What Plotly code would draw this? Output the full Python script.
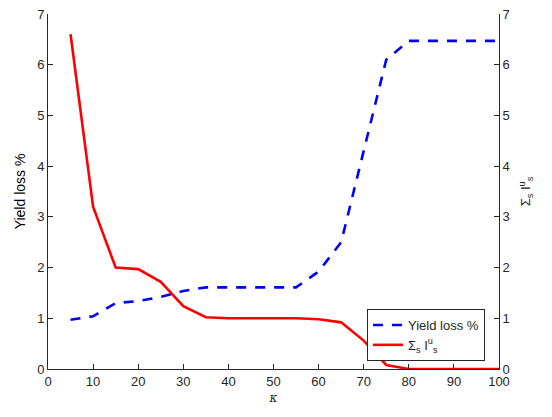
import plotly.graph_objects as go

kappa = [5, 10, 15, 20, 25, 30, 35, 40, 45, 50, 55, 60, 65, 70, 75, 80, 85, 90, 95, 100]
yield_loss = [0.97, 1.04, 1.30, 1.34, 1.42, 1.54, 1.61, 1.61, 1.61, 1.61, 1.61, 1.92, 2.5, 4.3, 6.1, 6.47, 6.47, 6.47, 6.47, 6.47]
sum_I = [6.6, 3.2, 2.0, 1.97, 1.72, 1.24, 1.02, 1.0, 1.0, 1.0, 1.0, 0.98, 0.92, 0.56, 0.08, 0.0, 0.0, 0.0, 0.0, 0.0]
x_ticks = [0, 10, 20, 30, 40, 50, 60, 70, 80, 90, 100]
y_ticks = [0, 1, 2, 3, 4, 5, 6, 7]

AX = "#262626"
FONT = "Liberation Sans, Arial, sans-serif"

fig = go.Figure()
fig.add_trace(go.Scatter(
    x=kappa, y=yield_loss, mode="lines", name="Yield loss %",
    line=dict(color="#0000FF", width=2.6, dash="10px,9px"), yaxis="y"))
fig.add_trace(go.Scatter(
    x=kappa, y=sum_I, mode="lines", name="Σ<sub>s</sub> I<sup>u</sup><sub>s</sub>",
    line=dict(color="#FF0000", width=2.6), yaxis="y2"))

axis_common = dict(
    showgrid=False, zeroline=False, showline=True, linecolor=AX, linewidth=1,
    ticks="inside", ticklen=5, tickcolor=AX, tickwidth=1, automargin=False,
    ticklabeloverflow="allow",
    tickfont=dict(family=FONT, size=13, color=AX),
)

fig.update_layout(
    width=552, height=417,
    margin=dict(l=48, r=53, t=14, b=48),
    paper_bgcolor="white", plot_bgcolor="white",
    font=dict(family=FONT, size=13, color=AX),
    xaxis=dict(range=[0, 100], tickvals=x_ticks, **axis_common,
               title=dict(text="<i>κ</i>", font=dict(family="DejaVu Serif, serif", size=12, color=AX), standoff=6)),
    yaxis=dict(range=[0, 7], tickvals=y_ticks, **axis_common,
               title=dict(text="Yield loss %", font=dict(family=FONT, size=14, color="black"), standoff=8)),
    yaxis2=dict(range=[0, 7], tickvals=y_ticks, overlaying="y", side="right", **axis_common,
                title=dict(text="Σ<sub>s</sub> I<sup>u</sup><sub>s</sub>", font=dict(family=FONT, size=13, color=AX), standoff=12)),
    showlegend=True,
    legend=dict(
        x=0.969, xanchor="right", y=0.169, yanchor="top",
        bgcolor="white", bordercolor=AX, borderwidth=1,
        font=dict(family=FONT, size=13, color=AX),
        tracegroupgap=0, itemwidth=30,
    ),
)

fig.write_html("out.html", config={"displayModeBar": False},
               post_script="document.body.style.margin='0';")
